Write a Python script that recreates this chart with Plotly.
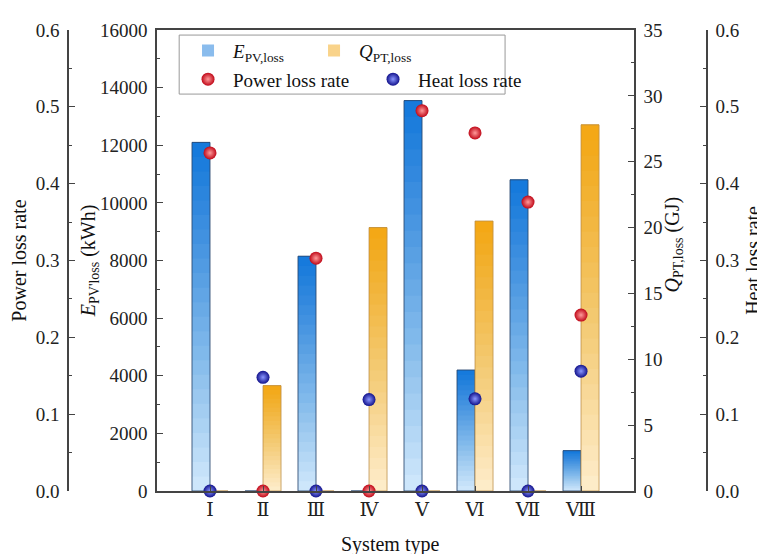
import plotly.graph_objects as go

# ---------------- data ----------------
systems = ["Ⅰ", "Ⅱ", "Ⅲ", "Ⅳ", "Ⅴ", "Ⅵ", "Ⅶ", "Ⅷ"]
e_pv_loss = [12100, 0, 8150, 0, 13550, 4200, 10800, 1400]          # kWh
q_pt_loss = [0, 8.0, 0, 20.0, 0, 20.5, 0, 27.8]                    # GJ
power_loss_rate = [0.440, 0.0, 0.303, 0.0, 0.495, 0.466, 0.376, 0.229]
heat_loss_rate = [0.0, 0.148, 0.0, 0.119, 0.0, 0.120, 0.0, 0.156]

FONT = "Liberation Serif, Times New Roman, DejaVu Serif, serif"
BAR_W = 0.34
N_LAYERS = 24

BLUE_DARK = (22, 122, 220)
BLUE_LIGHT = "rgb(205,230,251)"
ORANGE_DARK = (244, 168, 22)
ORANGE_LIGHT = "rgb(253,236,200)"

fig = go.Figure()


def gradient_bars(values, yaxis, offset, dark, light, line_col, name, legend_name):
    # light base bar
    fig.add_trace(go.Bar(x=systems, y=values, base=0, width=BAR_W, offset=offset,
                         yaxis=yaxis, marker=dict(color=light, line=dict(width=0)),
                         showlegend=False, hoverinfo="skip"))
    # stacked translucent layers -> vertical gradient (dark at top)
    for k in range(1, N_LAYERS):
        a = 1.0 / (N_LAYERS - k)
        bases = [v * k / N_LAYERS for v in values]
        heights = [v - b for v, b in zip(values, bases)]
        fig.add_trace(go.Bar(
            x=systems, y=heights, base=bases, width=BAR_W, offset=offset,
            yaxis=yaxis,
            marker=dict(color=f"rgba({dark[0]},{dark[1]},{dark[2]},{a:.4f})",
                        line=dict(width=0)),
            name=name, showlegend=(k == N_LAYERS - 2), legend=legend_name,
            hoverinfo="skip"))
    # outline
    fig.add_trace(go.Bar(x=systems, y=values, base=0, width=BAR_W, offset=offset,
                         yaxis=yaxis,
                         marker=dict(color="rgba(0,0,0,0)", line=dict(width=1, color=line_col)),
                         showlegend=False, hoverinfo="skip"))


gradient_bars(e_pv_loss, "y", -BAR_W, BLUE_DARK, BLUE_LIGHT, "rgba(40,70,110,0.85)",
              "<i>E</i><sub>PV,loss</sub>", "legend")
gradient_bars(q_pt_loss, "y2", 0.0, ORANGE_DARK, ORANGE_LIGHT, "rgba(185,140,70,0.75)",
              "<i>Q</i><sub>PT,loss</sub>", "legend")

fig.add_trace(go.Scatter(
    x=systems, y=power_loss_rate, yaxis="y3", mode="markers", name="Power loss rate",
    legend="legend2", cliponaxis=False,
    marker=dict(size=13, color="#c00818", line=dict(width=0),
                gradient=dict(type="radial", color="#ff9a9a"))))
fig.add_trace(go.Scatter(
    x=systems, y=heat_loss_rate, yaxis="y4", mode="markers", name="Heat loss rate",
    legend="legend2", cliponaxis=False,
    marker=dict(size=13, color="#12128c", line=dict(width=0),
                gradient=dict(type="radial", color="#8a96ff"))))

AX_COL = "#444"
tickfont = dict(family=FONT, size=19, color="#222")
common_y = dict(showgrid=False, zeroline=False, showline=True, linecolor=AX_COL, linewidth=1.5,
                ticks="inside", ticklen=6, tickwidth=1.3, tickcolor=AX_COL,
                tickfont=tickfont, ticklabelstandoff=4)

XDOM = [0.1393, 0.8858]
title_font = dict(family=FONT, size=20, color="#111")

fig.update_layout(
    width=757, height=546,
    margin=dict(l=60, r=58, t=14, b=63),
    paper_bgcolor="white", plot_bgcolor="white",
    barmode="overlay",
    font=dict(family=FONT, size=19, color="#111"),
    xaxis=dict(domain=XDOM, range=[-1, 8], showgrid=False, zeroline=False,
               showline=True, mirror=True, linecolor=AX_COL, linewidth=1.5,
               ticks="inside", ticklen=5, tickcolor=AX_COL, tickfont=tickfont),
    yaxis=dict(range=[0, 16000], tickvals=list(range(0, 16001, 2000)), tickformat="d",
               minor=dict(ticks="inside", ticklen=3.5, dtick=1000, tickcolor=AX_COL),
               **common_y),
    yaxis2=dict(range=[0, 35], overlaying="y", side="right", anchor="x",
                tickvals=list(range(0, 36, 5)), tickformat="d",
                minor=dict(ticks="inside", ticklen=3.5, dtick=2.5, tickcolor=AX_COL),
                **common_y),
    yaxis3=dict(range=[0, 0.6], overlaying="y", side="left", anchor="free", position=0,
                tickvals=[0, 0.1, 0.2, 0.3, 0.4, 0.5, 0.6], tickformat=".1f",
                minor=dict(ticks="inside", ticklen=3.5, dtick=0.05, tickcolor=AX_COL),
                **common_y),
    yaxis4=dict(range=[0, 0.6], overlaying="y", side="right", anchor="free", position=1,
                tickvals=[0, 0.1, 0.2, 0.3, 0.4, 0.5, 0.6], tickformat=".1f",
                minor=dict(ticks="inside", ticklen=3.5, dtick=0.05, tickcolor=AX_COL),
                **common_y),
    legend=dict(orientation="h", x=0.180, y=0.955, xanchor="left", yanchor="middle",
                bgcolor="rgba(0,0,0,0)", borderwidth=0, entrywidth=71, entrywidthmode="pixels",
                font=dict(family=FONT, size=19, color="#111"), itemwidth=40,
                traceorder="normal"),
    legend2=dict(orientation="h", x=0.180, y=0.893, xanchor="left", yanchor="middle",
                 bgcolor="rgba(0,0,0,0)", borderwidth=0, entrywidth=130, entrywidthmode="pixels",
                 font=dict(family=FONT, size=19, color="#111"), itemwidth=40,
                 traceorder="normal"),
    shapes=[dict(type="rect", xref="paper", yref="paper", x0=0.174, x1=0.684,
                 y0=0.861, y1=0.989, line=dict(color="#999", width=1), fillcolor="white",
                 layer="below")],
    annotations=[
        dict(text="Power loss rate", x=-0.078, y=0.5, xref="paper", yref="paper",
             xanchor="center", yanchor="middle",
             textangle=-90, showarrow=False, font=title_font),
        dict(text="<i>E</i><sub>PV'loss</sub> (kWh)", x=0.034, y=0.5, xref="paper", yref="paper",
             xanchor="center", yanchor="middle",
             textangle=-90, showarrow=False, font=title_font),
        dict(text="<i>Q</i><sub>PT,loss</sub> (GJ)", x=0.947, y=0.535, xref="paper", yref="paper",
             xanchor="center", yanchor="middle",
             textangle=-90, showarrow=False, font=title_font),
        dict(text="Heat loss rate", x=1.071, y=0.5, xref="paper", yref="paper",
             xanchor="center", yanchor="middle",
             textangle=-90, showarrow=False, font=title_font),
        dict(text="System type", x=0.504, y=-0.115, xref="paper", yref="paper",
             xanchor="center", yanchor="middle",
             showarrow=False, font=title_font),
    ],
)

fig.write_html("out.html")
